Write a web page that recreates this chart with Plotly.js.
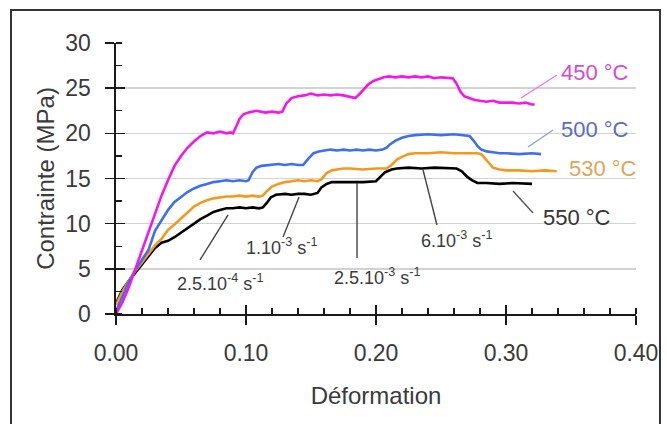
<!DOCTYPE html>
<html>
<head>
<meta charset="utf-8">
<script src="https://cdn.plot.ly/plotly-3.0.1.min.js"></script>
<style>
html,body{margin:0;padding:0;background:#fff;}
#chart{width:667px;height:424px;}
</style>
</head>
<body>
<div id="chart"></div>
<script>
// ---- Data ----
const strain450 = [0,0.005,0.010,0.015,0.020,0.025,0.030,0.035,0.040,0.045,0.050,0.055,0.060,0.065,0.070,0.075,0.080,0.085,0.088,0.090,0.092,0.095,0.098,0.102,0.108,0.115,0.120,0.125,0.128,0.131,0.135,0.140,0.145,0.150,0.155,0.160,0.165,0.170,0.175,0.180,0.184,0.187,0.190,0.194,0.198,0.202,0.206,0.210,0.215,0.220,0.225,0.230,0.235,0.240,0.245,0.250,0.255,0.259,0.262,0.265,0.268,0.272,0.276,0.280,0.285,0.290,0.295,0.300,0.305,0.310,0.315,0.320,0.322];
const stress450 = [0,1.3,3.0,5.0,6.9,8.9,11.0,13.1,14.8,16.4,17.5,18.4,19.1,19.7,20.1,20.0,20.2,20.0,20.1,20.0,20.6,21.6,22.1,22.3,22.5,22.3,22.4,22.3,22.4,23.3,23.9,24.1,24.2,24.4,24.2,24.3,24.2,24.3,24.2,24.0,23.9,24.3,24.8,25.4,25.8,26.0,26.2,26.3,26.2,26.3,26.2,26.3,26.2,26.3,26.1,26.2,26.1,26.1,25.5,24.6,24.1,23.9,23.7,23.6,23.5,23.6,23.4,23.4,23.4,23.3,23.4,23.2,23.2];

const strain500 = [0,0.005,0.010,0.015,0.020,0.025,0.030,0.035,0.040,0.045,0.050,0.055,0.060,0.065,0.070,0.075,0.080,0.085,0.090,0.095,0.100,0.102,0.105,0.108,0.112,0.118,0.125,0.130,0.135,0.140,0.144,0.148,0.152,0.156,0.160,0.165,0.170,0.175,0.180,0.185,0.190,0.195,0.200,0.205,0.208,0.211,0.215,0.220,0.225,0.230,0.240,0.250,0.260,0.268,0.272,0.275,0.278,0.281,0.285,0.290,0.295,0.300,0.310,0.320,0.327];
const stress500 = [0.3,2.0,3.6,4.9,6.0,7.1,9.2,10.3,11.5,12.4,13.0,13.5,13.9,14.2,14.4,14.6,14.7,14.8,14.7,14.8,14.7,14.8,15.7,16.2,16.4,16.5,16.6,16.5,16.6,16.5,16.5,17.2,17.8,18.0,18.1,18.2,18.1,18.2,18.1,18.2,18.1,18.2,18.1,18.2,18.4,18.8,19.2,19.5,19.7,19.8,19.9,19.8,19.9,19.8,19.7,19.2,18.6,18.2,18.0,17.9,17.8,17.8,17.7,17.8,17.7];

const strain530 = [0,0.005,0.010,0.015,0.020,0.025,0.030,0.035,0.040,0.045,0.050,0.055,0.060,0.065,0.070,0.075,0.080,0.085,0.090,0.095,0.100,0.105,0.110,0.113,0.116,0.120,0.125,0.130,0.135,0.140,0.145,0.150,0.155,0.158,0.162,0.166,0.170,0.175,0.180,0.190,0.200,0.208,0.212,0.216,0.220,0.225,0.230,0.240,0.250,0.260,0.270,0.278,0.281,0.284,0.287,0.290,0.295,0.300,0.310,0.320,0.330,0.339];
const stress530 = [1.0,2.5,3.7,4.8,5.7,6.7,7.6,8.3,9.3,9.9,10.6,11.3,11.9,12.3,12.6,12.8,12.9,13.0,13.0,13.1,13.0,13.1,13.0,13.1,13.6,14.1,14.4,14.6,14.7,14.8,14.7,14.8,14.7,14.9,15.6,15.9,16.0,16.1,16.1,16.0,16.1,16.1,16.5,17.1,17.4,17.7,17.8,17.8,17.9,17.8,17.8,17.8,17.7,17.2,16.6,16.2,16.0,15.9,15.9,15.8,15.9,15.8];

const strain550 = [0,0.005,0.010,0.015,0.020,0.025,0.030,0.035,0.040,0.045,0.050,0.055,0.060,0.065,0.070,0.075,0.080,0.085,0.090,0.095,0.100,0.105,0.110,0.113,0.116,0.119,0.123,0.130,0.135,0.140,0.145,0.150,0.155,0.158,0.162,0.166,0.172,0.180,0.190,0.200,0.203,0.207,0.212,0.216,0.225,0.235,0.245,0.255,0.262,0.266,0.270,0.274,0.278,0.285,0.295,0.305,0.315,0.320];
const stress550 = [1.2,2.7,3.7,4.6,5.6,6.5,7.3,7.9,8.1,8.5,9.0,9.6,10.0,10.5,10.9,11.3,11.5,11.7,11.7,11.8,11.7,11.8,11.7,11.8,12.3,12.9,13.2,13.3,13.2,13.3,13.3,13.2,13.4,14.0,14.4,14.6,14.6,14.6,14.6,14.7,15.1,15.7,16.0,16.1,16.2,16.1,16.2,16.1,16.1,15.8,15.2,14.8,14.5,14.5,14.4,14.5,14.4,14.4];

const xTickVals = [0, 0.1, 0.2, 0.3, 0.4];
const xTickText = ['0.00', '0.10', '0.20', '0.30', '0.40'];
const yTickVals = [0, 5, 10, 15, 20, 25, 30];
const yTickText = ['0', '5', '10', '15', '20', '25', '30'];

const tempLabels = ['450 °C', '500 °C', '530 °C', '550 °C'];
const rateLabels = ['2.5.10<sup>-4</sup> s<sup>-1</sup>', '1.10<sup>-3</sup> s<sup>-1</sup>', '2.5.10<sup>-3</sup> s<sup>-1</sup>', '6.10<sup>-3</sup> s<sup>-1</sup>'];

// ---- Styles ----
const FONT = 'Liberation Sans, Arial, sans-serif';
const AX = '#1a1a1a';
const TXT = '#3a3a3a';
const colors = ['#f516e8', '#3f6fef', '#f39a1e', '#000000'];
const labelColors = ['#d24bd2', '#5a6cc8', '#e3a458', '#333333'];
const leaderColors = ['#e67be6', '#8f9fe0', '#e3a458', '#555555'];

function line(x, y, c) {
  return {x: x, y: y, type: 'scatter', mode: 'lines', line: {color: c, width: 2.6}, hoverinfo: 'skip'};
}

const traces = [
  line(strain550, stress550, colors[3]),
  line(strain530, stress530, colors[2]),
  line(strain500, stress500, colors[1]),
  line(strain450, stress450, colors[0]),
  {x: [], y: [], xaxis: 'x2', yaxis: 'y2', type: 'scatter', mode: 'lines', showlegend: false}
];

function ann(text, x, y, color, size) {
  return {text: text, x: x, y: y, xref: 'x', yref: 'y', showarrow: false,
          font: {family: FONT, size: size, color: color}, xanchor: 'center', yanchor: 'middle'};
}
function seg(x0, y0, x1, y1, color) {
  return {type: 'line', xref: 'x', yref: 'y', x0: x0, y0: y0, x1: x1, y1: y1,
          line: {color: color, width: 1.4}};
}

const layout = {
  width: 667, height: 424,
  margin: {l: 116, r: 31, t: 43, b: 110},
  paper_bgcolor: '#ffffff', plot_bgcolor: '#ffffff',
  showlegend: false,
  xaxis: {
    range: [0, 0.4], tickvals: xTickVals, ticktext: xTickText,
    ticks: 'outside', ticklen: 9, tickwidth: 1.5, tickcolor: AX,
    minor: {dtick: 0.02, tick0: 0, ticks: 'inside', ticklen: 6, tickwidth: 1.3, tickcolor: AX, showgrid: false},
    showline: true, linecolor: AX, linewidth: 1.6, showgrid: false, zeroline: false,
    tickfont: {family: FONT, size: 23, color: TXT}, ticklabelstandoff: 9,
    title: {text: 'Déformation', font: {family: FONT, size: 24, color: TXT}, standoff: 22},
    fixedrange: true
  },
  yaxis: {
    range: [0, 30], tickvals: yTickVals, ticktext: yTickText,
    ticks: 'outside', ticklen: 9, tickwidth: 1.5, tickcolor: AX,
    minor: {dtick: 2.5, tick0: 0, ticks: 'inside', ticklen: 6, tickwidth: 1.3, tickcolor: AX, showgrid: false},
    showline: true, linecolor: AX, linewidth: 1.6, showgrid: true, gridcolor: '#d2d2d2', gridwidth: 1.5,
    zeroline: false,
    tickfont: {family: FONT, size: 23, color: TXT}, ticklabelstandoff: 10,
    title: {text: 'Contrainte (MPa)', font: {family: FONT, size: 24, color: TXT}, standoff: 4},
    fixedrange: true
  },
  xaxis2: {overlaying: 'x', anchor: 'y2', side: 'bottom', range: [0, 0.4], tickvals: xTickVals,
    ticks: 'inside', ticklen: 9, tickwidth: 1.5, tickcolor: AX, showticklabels: false,
    showgrid: false, zeroline: false, showline: false},
  yaxis2: {overlaying: 'y', anchor: 'x2', side: 'left', range: [0, 30], tickvals: yTickVals,
    ticks: 'inside', ticklen: 9, tickwidth: 1.5, tickcolor: AX, showticklabels: false,
    showgrid: false, zeroline: false, showline: false},
  annotations: [
    ann(tempLabels[0], 0.3685, 26.68, labelColors[0], 22),
    ann(tempLabels[1], 0.3685, 20.48, labelColors[1], 22),
    ann(tempLabels[2], 0.3746, 16.16, labelColors[2], 22),
    ann(tempLabels[3], 0.3546, 10.63, labelColors[3], 22),
    ann(rateLabels[0], 0.080, 3.54, TXT, 18),
    ann(rateLabels[1], 0.127, 7.42, TXT, 18),
    ann(rateLabels[2], 0.2008, 4.10, TXT, 18),
    ann(rateLabels[3], 0.2623, 8.30, TXT, 18)
  ],
  shapes: [
    seg(0.3115, 23.91, 0.3392, 26.46, leaderColors[0]),
    seg(0.3169, 18.49, 0.3362, 20.37, leaderColors[1]),
    seg(0.3054, 13.62, 0.3208, 11.18, leaderColors[3]),
    seg(0.0646, 5.98, 0.0862, 10.96, '#444444'),
    seg(0.1285, 8.52, 0.1408, 12.95, '#444444'),
    seg(0.1854, 6.2, 0.1854, 14.5, '#444444'),
    seg(0.2469, 9.85, 0.2362, 15.94, '#444444'),
    {type: 'rect', xref: 'paper', yref: 'paper', x0: -0.2019, x1: 1.0461, y0: -0.45, y1: 1.1218,
     line: {color: '#333333', width: 2}, fillcolor: 'rgba(0,0,0,0)', layer: 'above'}
  ]
};

Plotly.newPlot('chart', traces, layout, {displayModeBar: false, staticPlot: true});
</script>
</body>
</html>
